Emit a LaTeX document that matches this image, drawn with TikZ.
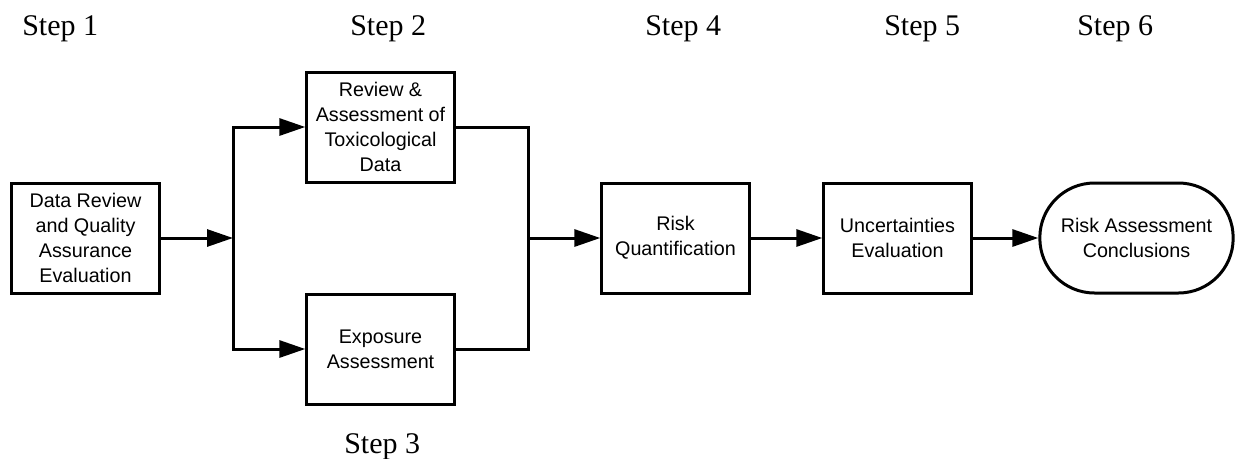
\documentclass[tikz,border=0pt]{standalone}
\usepackage{fontspec}
\setmainfont{Liberation Serif}
\newfontfamily\boxfont{Liberation Sans}
\usetikzlibrary{arrows.meta}
\begin{document}
\begin{tikzpicture}[x=0.75pt,y=-0.75pt,
  stepbox/.style={draw,line width=2.25pt,minimum width=110.5pt,minimum height=82.5pt,
    align=center,inner sep=0pt,font=\boxfont\fontsize{14.8pt}{18.75pt}\selectfont},
  termbox/.style={stepbox,minimum width=145pt,rounded corners=41pt},
  steplabel/.style={anchor=base west,inner sep=0pt,font=\fontsize{22.5pt}{27pt}\selectfont},
  conn/.style={line width=2.25pt},
  arr/.style={conn,-{Triangle[length=19.5pt,width=12.75pt]}}]
\useasboundingbox (0,0) rectangle (1236,458);
% step labels
\node[steplabel] (s1) at (22,35) {Step 1};
\node[steplabel] (s2) at (350,35) {Step 2};
\node[steplabel] (s3) at (344,453) {Step 3};
\node[steplabel] (s4) at (645,35) {Step 4};
\node[steplabel] (s5) at (884,35) {Step 5};
\node[steplabel] (s6) at (1077,35) {Step 6};
% boxes
\node[stepbox] (b1) at (85.5,238) {Data Review\\and Quality\\Assurance\\Evaluation};
\node[stepbox] (b2) at (380.5,127) {Review \&\\Assessment of\\Toxicological\\Data};
\node[stepbox] (b3) at (380.5,349) {Exposure\\Assessment};
\node[stepbox] (b4) at (675.5,238) {Risk\\Quantification};
\node[stepbox] (b5) at (897.5,238) {Uncertainties\\Evaluation};
\node[termbox] (b6) at (1136.5,238) {Risk Assessment\\Conclusions};
% junctions
\coordinate (j1) at (233,238);
\coordinate (j2) at (528,238);
% connectors
\draw[arr] (b1.east) -- (j1);
\draw[arr] (j1) |- (b2.west);
\draw[arr] (j1) |- (b3.west);
\draw[conn] (b2.east) -| (j2);
\draw[conn] (b3.east) -| (j2);
\draw[arr] (j2) -- (b4.west);
\draw[arr] (b4.east) -- (b5.west);
\draw[arr] (b5.east) -- (b6.west);
\end{tikzpicture}
\end{document}
